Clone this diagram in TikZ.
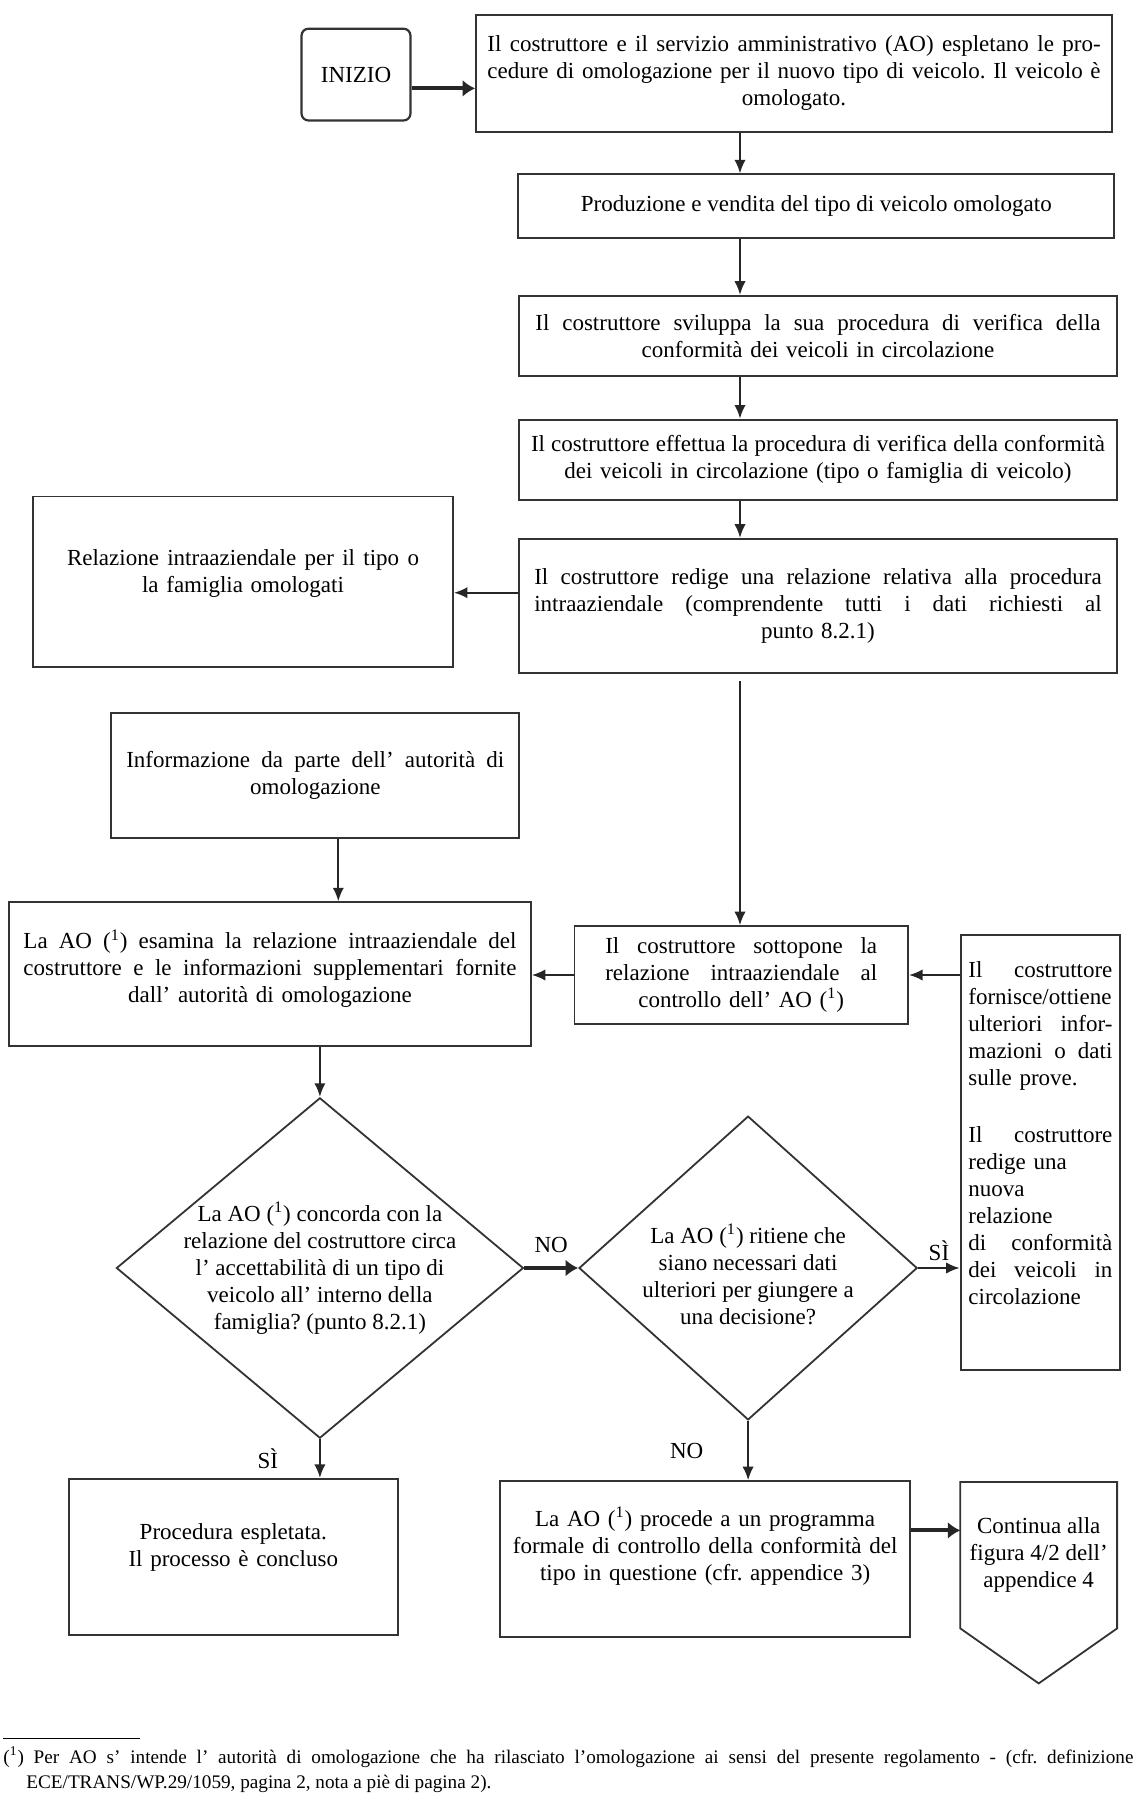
\documentclass[tikz,border=0pt]{standalone}
\usepackage{fontspec}
\setmainfont{Liberation Serif}
\usetikzlibrary{arrows.meta,shapes.geometric,calc}

\frenchspacing
\newcommand{\jl}[1]{\makebox[\linewidth][s]{\spaceskip=0pt\xspaceskip=0pt\relax#1}}
\newcommand{\rif}{(\textsuperscript{1})}

\begin{document}
\begin{tikzpicture}[
    x=0.5pt, y=-0.5pt,
    font=\fontsize{11.5}{13.5}\selectfont,
    proc/.style={
        draw=black!80,
        line width=0.9pt,
        align=center,
        inner sep=0pt
    },
    startbox/.style={
        draw=black!80,
        line width=1.1pt,
        rounded corners=3.5pt,
        inner sep=0pt
    },
    decision/.style={
        draw=black!80,
        line width=0.9pt,
        shape=diamond,
        inner sep=0pt
    },
    dtext/.style={align=center, inner sep=0pt},
    fn/.style={anchor=base west, inner sep=0pt, font=\fontsize{9.6}{12.6}\selectfont},
    arrow/.style={-{Latex[length=2.4mm,width=2mm]}, line width=1.1pt, draw=black!85},
    heavy/.style={arrow, -{Latex[length=2.2mm,width=3mm]}, line width=2.4pt}
]
\useasboundingbox (0,0) rectangle (1135,1797);
\coordinate (spine) at (740,0);

% Right column: approval and in-service procedure
\node[startbox, minimum width=54.5pt, minimum height=45.9pt] (inizio) at (356,74.6) {INIZIO};

\node[proc, minimum width=318pt, minimum height=58.5pt, text width=306.6pt] (omolog) at (794,73.4) {
\jl{Il costruttore e il servizio amministrativo (AO) espletano le pro-}\\
\jl{cedure di omologazione per il nuovo tipo di veicolo. Il veicolo è}\\
omologato.};

\node[proc, minimum width=298pt, minimum height=32pt] (vendita) at (816.3,206.4) {Produzione e vendita del tipo di veicolo omologato};

\node[proc, minimum width=298.7pt, minimum height=40.1pt, text width=282.6pt] (sviluppa) at (818,335.9) {
\jl{Il costruttore sviluppa la sua procedura di verifica della}\\
conformità dei veicoli in circolazione};

\node[proc, minimum width=298.7pt, minimum height=40.2pt, text width=287pt] (effettua) at (818,459.8) {
\jl{Il costruttore effettua la procedura di verifica della conformità}\\
dei veicoli in circolazione (tipo o famiglia di veicolo)};

\node[proc, minimum width=298.7pt, minimum height=67.1pt, text width=283.7pt] (redige) at (818,605.9) {
\jl{Il costruttore redige una relazione relativa alla procedura}\\
\jl{intraaziendale (comprendente tutti i dati richiesti al}\\
punto 8.2.1)};

% Left column
\node[proc, minimum width=209.9pt, minimum height=85.4pt, text width=176pt, text depth=24pt] (reltipo) at (243,581.8) {
\jl{Relazione intraaziendale per il tipo o}\\
la famiglia omologati};

\node[proc, minimum width=204pt, minimum height=62.5pt, text width=189pt] (info) at (315.3,775.6) {
\jl{Informazione da parte dell’ autorità di}\\
omologazione};

\node[proc, minimum width=260.8pt, minimum height=71.7pt, text width=246.5pt, text depth=34.7pt] (esamina) at (270,974) {
\jl{La AO \rif{} esamina la relazione intraaziendale del}\\
\jl{costruttore e le informazioni supplementari fornite}\\
dall’ autorità di omologazione};

\node[proc, minimum width=166.8pt, minimum height=48.8pt, text width=135.9pt] (sottopone) at (741.2,975) {
\jl{Il costruttore sottopone la}\\
\jl{relazione intraaziendale al}\\
controllo dell’ AO \rif};

\node[proc, anchor=north, align=left, inner xsep=3.85pt, inner ysep=13pt, text width=72pt, text depth=183.4pt] (ulteriori) at (1040.4,934.4) {
\jl{Il costruttore}\\
fornisce/ottiene\\
\jl{ulteriori infor-}\\
\jl{mazioni o dati}\\
sulle prove.\\[15pt]
\jl{Il costruttore}\\
redige una\\
nuova\\
relazione\\
\jl{di conformità}\\
\jl{dei veicoli in}\\
circolazione};

% Decisions
\node[decision, minimum width=203.5pt, minimum height=170.2pt] (dia1) at (319.9,1268) {};
\node[dtext] (dia1txt) at (dia1) {La AO \rif{} concorda con la\\
relazione del costruttore circa\\
l’ accettabilità di un tipo di\\
veicolo all’ interno della\\
famiglia? (punto 8.2.1)};

\node[decision, minimum width=169.1pt, minimum height=151.9pt] (dia2) at (748.1,1268) {};
\node[dtext] (dia2txt) at ([yshift=-3pt]dia2) {La AO \rif{} ritiene che\\
siano necessari dati\\
ulteriori per giungere a\\
una decisione?};

% Outcomes
\node[proc, minimum width=164.5pt, minimum height=78pt, text width=150pt, text depth=25.7pt] (espletata) at (233.3,1556.9) {Procedura espletata.\\Il processo è concluso};

\node[proc, minimum width=205.2pt, minimum height=78pt, text width=195pt, text depth=42.7pt] (procede) at (705.1,1559.2) {La AO \rif{} procede a un programma\\
formale di controllo della conformità del\\
tipo in questione (cfr. appendice 3)};

\node[inner sep=0pt, minimum width=78pt, minimum height=72.8pt, align=center] (cont) at (1038.7,1555.2) {Continua alla\\figura 4/2 dell’\\appendice 4};
\draw[line width=0.9pt, draw=black!80] (cont.north west) -- (cont.north east) -- (cont.south east)
    -- ($(cont.south)+(0,55)$) -- (cont.south west) -- cycle;

% Connectors
\draw[heavy, line width=2pt] ([yshift=-6.9pt]inizio.east) -- ([yshift=-6.9pt]inizio.east -| omolog.west);
\draw[arrow] (omolog.south -| spine) -- (vendita.north -| spine);
\draw[arrow] (vendita.south -| spine) -- (sviluppa.north -| spine);
\draw[arrow] (sviluppa.south -| spine) -- (effettua.north -| spine);
\draw[arrow] (effettua.south -| spine) -- (redige.north -| spine);
\draw[arrow] ([yshift=6.6pt]redige.west) -- ([yshift=6.6pt]redige.west -| reltipo.east);
\draw[arrow, shorten <=3.5pt] (redige.south -| spine) -- (sottopone.north -| spine);
\draw[arrow] ([xshift=11.5pt]info.south) -- ([xshift=11.5pt]info.south |- esamina.north);
\draw[arrow] (sottopone.west) -- (sottopone.west -| esamina.east);
\draw[arrow] (ulteriori.west |- sottopone.east) -- (sottopone.east);
\draw[arrow] (esamina.south -| dia1.north) -- (dia1.north);
\draw[heavy] (dia1.east) -- node[above=3pt] (lblno1) {NO} (dia2.west);
\draw[arrow] (dia2.east) -- node[above] (lblsi2) {SÌ} (dia2.east -| ulteriori.west);
\draw[arrow] (dia1.south) -- node[left=17pt] (lblsi1) {SÌ} (dia1.south |- espletata.north);
\draw[arrow] (dia2.south) -- node[left=18.5pt] (lblno2) {NO} (dia2.south |- procede.north);
\draw[heavy, line width=2pt] ([yshift=14.4pt]procede.east) -- ([yshift=14.4pt]procede.east -| cont.west);

% Footnote
\draw[line width=0.5pt] (3,1738) -- (140,1738);
\node[fn, text width=565pt, align=left] (nota) at (3,1763) {%
\jl{\rif{} Per AO s’ intende l’ autorità di omologazione che ha rilasciato l’omologazione ai sensi del presente regolamento - (cfr. definizione}};
\node[fn] (nota2) at (26,1788.2) {ECE/TRANS/WP.29/1059, pagina 2, nota a piè di pagina 2).};

\end{tikzpicture}
\end{document}
